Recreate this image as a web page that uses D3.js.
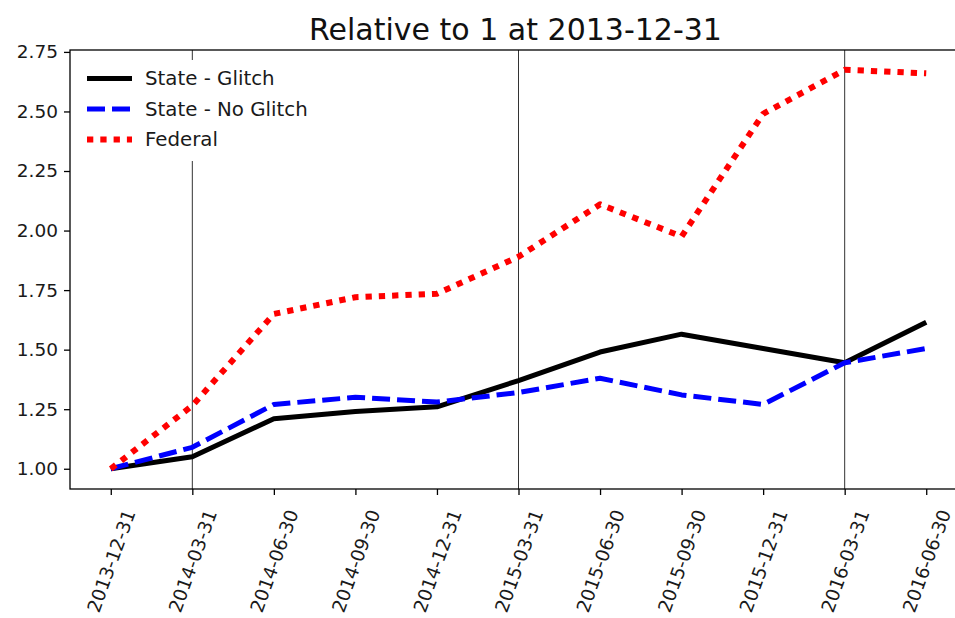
<!DOCTYPE html>
<html>
<head>
<meta charset="utf-8">
<script src="https://cdn.jsdelivr.net/npm/d3@7"></script>
<style>
  html, body { margin: 0; padding: 0; background: #fff; }
  svg { display: block; font-family: "DejaVu Sans", sans-serif; }
</style>
</head>
<body>
<svg id="chart" width="955" height="618"></svg>
<script>
const dates = ["2013-12-31","2014-03-31","2014-06-30","2014-09-30","2014-12-31","2015-03-31","2015-06-30","2015-09-30","2015-12-31","2016-03-31","2016-06-30"];
const stateGlitch   = [1.00, 1.05, 1.21, 1.24, 1.26, 1.37, 1.49, 1.565, 1.505, 1.445, 1.615];
const stateNoGlitch = [1.00, 1.09, 1.27, 1.30, 1.28, 1.32, 1.38, 1.31, 1.27, 1.445, 1.505];
const federal       = [1.00, 1.265, 1.65, 1.72, 1.735, 1.89, 2.11, 1.975, 2.49, 2.675, 2.66];
const yTicks = [1.00, 1.25, 1.50, 1.75, 2.00, 2.25, 2.50, 2.75];
const vlineDates = ["2014-03-31", "2015-03-31", "2016-03-31"];
const seriesNames = ["State - Glitch", "State - No Glitch", "Federal"];
const titleText = "Relative to 1 at 2013-12-31";

const svg = d3.select("#chart");
const plot = { left: 70, right: 967, top: 50, bottom: 489 };

const x = d3.scaleLinear().domain([-0.5, dates.length - 0.5]).range([plot.left, plot.right]);
const y = d3.scaleLinear().domain([0.915, 2.758]).range([plot.bottom, plot.top]);

// vertical lines
const vl = svg.append("g");
vlineDates.forEach(dt => {
  const i = dates.indexOf(dt);
  vl.append("line")
    .attr("x1", x(i)).attr("x2", x(i))
    .attr("y1", plot.top).attr("y2", plot.bottom)
    .attr("stroke", "#333").attr("stroke-width", 1);
});

// series
const styles = [
  { data: stateGlitch, color: "#000", width: 5, dash: null },
  { data: stateNoGlitch, color: "#0000ff", width: 5, dash: "18 7" },
  { data: federal, color: "#ff0000", width: 6, dash: "6.3 7" }
];
const line = d3.line().x((d, i) => x(i)).y(d => y(d));
styles.forEach(s => {
  const p = svg.append("path")
    .datum(s.data)
    .attr("d", line)
    .attr("fill", "none")
    .attr("stroke", s.color)
    .attr("stroke-width", s.width)
    .attr("stroke-linejoin", "round");
  if (s.dash) p.attr("stroke-dasharray", s.dash);
});

// axes
const yAxis = d3.axisLeft(y).tickValues(yTicks).tickFormat(d3.format(".2f")).tickSize(6).tickPadding(6);
const gy = svg.append("g").attr("transform", `translate(${plot.left},0)`).call(yAxis);
gy.select(".domain").remove();
gy.selectAll(".tick line").attr("stroke", "#000").attr("stroke-width", 1.3);
gy.selectAll(".tick text").attr("font-size", 18.5).attr("fill", "#1a1a1a").attr("font-family", "DejaVu Sans");

const xAxis = d3.axisBottom(x).tickValues(d3.range(dates.length)).tickFormat(i => dates[i]).tickSize(6);
const gx = svg.append("g").attr("transform", `translate(0,${plot.bottom})`).call(xAxis);
gx.select(".domain").remove();
gx.selectAll(".tick line").attr("stroke", "#000").attr("stroke-width", 1.3);
gx.selectAll(".tick text")
  .attr("font-size", 18.5).attr("fill", "#1a1a1a").attr("font-family", "DejaVu Sans")
  .attr("text-anchor", "middle")
  .attr("dominant-baseline", "central")
  .attr("y", 0).attr("dy", 0)
  .attr("transform", "translate(0,72) rotate(-70)");

// spines
svg.append("rect")
  .attr("x", plot.left).attr("y", plot.top)
  .attr("width", plot.right - plot.left).attr("height", plot.bottom - plot.top)
  .attr("fill", "none").attr("stroke", "#000").attr("stroke-width", 1.3);

// title
svg.append("text")
  .attr("x", (plot.left + plot.right) / 2 - 3).attr("y", 39.5)
  .attr("text-anchor", "middle")
  .attr("font-size", 30).attr("fill", "#111")
  .text(titleText);

// legend
const lg = svg.append("g");
lg.append("rect").attr("x", 78).attr("y", 60).attr("width", 245).attr("height", 101).attr("fill", "#fff");
styles.forEach((s, k) => {
  const yy = 78.5 + k * 30.5;
  const l = lg.append("line")
    .attr("x1", 87).attr("x2", 132).attr("y1", yy).attr("y2", yy)
    .attr("stroke", s.color).attr("stroke-width", s.width);
  if (s.dash) l.attr("stroke-dasharray", s.dash);
  lg.append("text")
    .attr("x", 145).attr("y", yy).attr("dy", "0.35em")
    .attr("font-size", 19.8).attr("fill", "#1a1a1a")
    .text(seriesNames[k]);
});
</script>
</body>
</html>
